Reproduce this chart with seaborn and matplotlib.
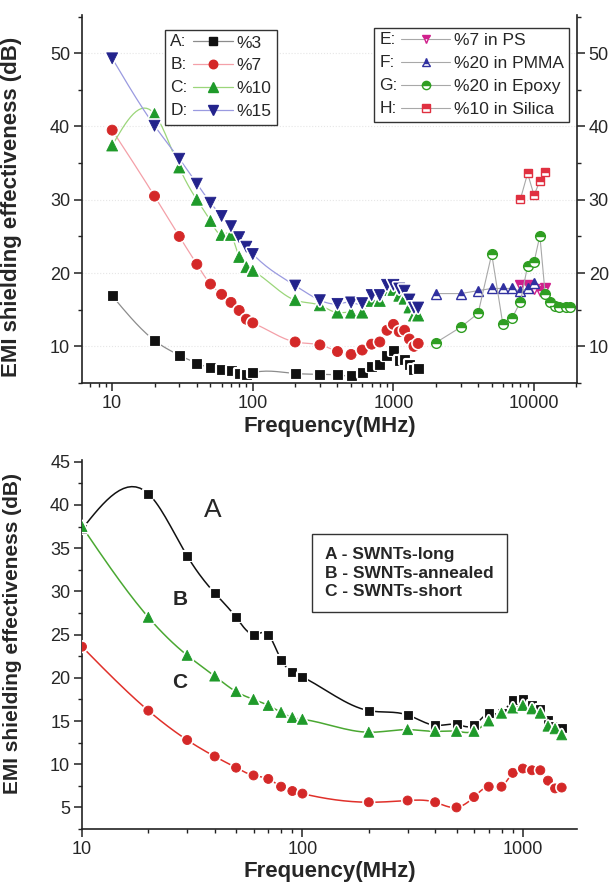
import numpy as np
import matplotlib
matplotlib.use("Agg")
import matplotlib.pyplot as plt
import matplotlib.ticker as mticker
import matplotlib.patheffects as pe
from matplotlib.lines import Line2D
from matplotlib.legend_handler import HandlerLine2D
from matplotlib.text import Text
import seaborn as sns

sns.set_style("ticks")
plt.rcParams["font.family"] = ["Liberation Sans", "DejaVu Sans"]

# ---- top panel: SWNT loadings (frequency in MHz, SE in dB)
freq = [10, 20, 30, 40, 50, 60, 70, 80, 90, 100, 200, 300, 400, 500,
        600, 700, 800, 900, 1000, 1100, 1200, 1300, 1400, 1500]
se_3 = [16.9, 10.8, 8.8, 7.7, 7.1, 6.9, 6.7, 6.3, 6.2, 6.4, 6.3, 6.2, 6.1, 6.0,
        6.5, 7.2, 7.5, 8.7, 9.4, 8.1, 8.2, 7.5, 6.8, 7.0]
se_7 = [39.5, 30.5, 25.0, 21.2, 18.5, 17.1, 16.0, 14.9, 13.7, 13.2, 10.6, 10.2, 9.3, 8.9,
        9.5, 10.3, 10.6, 12.2, 13.0, 12.0, 12.2, 11.0, 10.0, 10.4]
se_10 = [37.4, 41.7, 34.4, 30.0, 27.1, 25.2, 25.2, 22.2, 20.8, 20.3, 16.3, 15.6, 14.6, 14.6,
         14.6, 16.2, 16.2, 17.7, 17.7, 16.9, 16.5, 15.3, 14.2, 14.2]
se_15 = [49.3, 40.1, 35.6, 32.2, 29.6, 27.8, 26.4, 24.9, 23.6, 22.6, 18.3, 16.3, 15.8, 16.0,
         15.9, 17.0, 17.0, 18.4, 18.4, 17.9, 17.6, 16.4, 15.3, 15.3]

# ---- top panel: literature composites
freq_ps = [8000, 9000, 10000, 11000, 12000]
se_ps = [18.4, 18.4, 17.8, 17.6, 17.9]
freq_pmma = [2000, 3000, 4000, 5000, 6000, 7000, 8000, 9000, 10000]
se_pmma = [17.2, 17.2, 17.6, 17.9, 17.9, 17.9, 17.5, 17.9, 18.6]
freq_epoxy = [2000, 3000, 4000, 5000, 6000, 7000, 8000, 9000, 10000, 11000,
              12000, 13000, 14000, 15000, 17000, 18000]
se_epoxy = [10.5, 12.6, 14.5, 22.6, 13.0, 13.9, 16.1, 21.0, 21.5, 25.1,
            17.1, 16.1, 15.5, 15.4, 15.4, 15.4]
freq_silica = [8000, 9000, 10000, 11000, 12000]
se_silica = [30.1, 33.6, 30.6, 32.6, 33.8]

# ---- bottom panel: SWNT types
se_long = [37.2, 41.3, 34.1, 29.8, 27.0, 25.0, 25.0, 22.1, 20.7, 20.1, 16.2, 15.7, 14.5, 14.6,
           14.5, 15.9, 15.9, 17.4, 17.5, 16.9, 16.4, 15.1, 14.4, 14.2]
se_annealed = [37.5, 27.0, 22.6, 20.2, 18.4, 17.5, 16.8, 16.0, 15.4, 15.2, 13.7, 14.0, 13.8, 13.8,
               13.8, 15.0, 15.9, 16.5, 16.8, 16.4, 15.9, 14.4, 14.1, 13.4]
se_short = [23.6, 16.2, 12.8, 10.9, 9.6, 8.7, 8.3, 7.4, 6.9, 6.6, 5.6, 5.8, 5.6, 5.0,
            6.2, 7.4, 7.4, 9.0, 9.5, 9.3, 9.3, 8.1, 7.2, 7.3]


# spline connector (log-x), like Origin's spline line
def spline_line(x, y, n=16):
    t = np.log10(np.asarray(x, float))
    y = np.asarray(y, float)
    k = len(t)
    h = np.diff(t)
    A = np.zeros((k, k))
    r = np.zeros(k)
    A[0, 0] = A[-1, -1] = 1
    for i in range(1, k - 1):
        A[i, i - 1] = h[i - 1]
        A[i, i] = 2 * (h[i - 1] + h[i])
        A[i, i + 1] = h[i]
        r[i] = 3 * ((y[i + 1] - y[i]) / h[i] - (y[i] - y[i - 1]) / h[i - 1])
    c = np.linalg.solve(A, r)
    tt, yy = [], []
    for i in range(k - 1):
        s = np.linspace(0, h[i], n, endpoint=False)
        b = (y[i + 1] - y[i]) / h[i] - h[i] * (2 * c[i] + c[i + 1]) / 3
        d = (c[i + 1] - c[i]) / (3 * h[i])
        tt.append(t[i] + s)
        yy.append(y[i] + b * s + c[i] * s ** 2 + d * s ** 3)
    tt.append([t[-1]])
    yy.append([y[-1]])
    return 10 ** np.concatenate(tt), np.concatenate(yy)


class LetterHandler(HandlerLine2D):
    """legend handle drawn as 'A: --marker--'"""
    def __init__(self, letter, lead=1.3, **kw):
        super().__init__(**kw)
        self.letter = letter
        self.lead = lead

    def create_artists(self, legend, orig_handle, xdescent, ydescent,
                       width, height, fontsize, trans):
        off = self.lead * fontsize
        arts = super().create_artists(legend, orig_handle, xdescent - off, ydescent,
                                      width - off, height, fontsize, trans)
        txt = Text(-xdescent, (height - ydescent) / 2, self.letter, fontsize=fontsize,
                   va="center", ha="left", transform=trans)
        return arts + [txt]


halo = [pe.withStroke(linewidth=3, foreground="white")]
fmt = mticker.FuncFormatter(lambda v, _: f"{v:g}")

fig = plt.figure(figsize=(6.1, 8.86), dpi=100)
ax1 = fig.add_axes([0.1344, 0.5677, 0.8115, 0.4153])
ax2 = fig.add_axes([0.1344, 0.0643, 0.8115, 0.4165])

# ================= top panel =================
ax1.set_xscale("log")
ax1.grid(axis="y", ls=":", color="#e6e6e6", lw=0.8)

top_series = [
    ("A:", "%3", se_3, "#111111", "#8c8c8c", "s", 42),
    ("B:", "%7", se_7, "#d42828", "#f4a0a8", "o", 52),
    ("C:", "%10", se_10, "#1f9a2a", "#9bd67a", "^", 62),
    ("D:", "%15", se_15, "#23238c", "#9a9ae0", "v", 62),
]
handles1, labels1, hmap1 = [], [], {}
for letter, lab, vals, mc, lc, mk, sz in top_series:
    xs, ys = spline_line(freq, vals)
    sns.lineplot(x=xs, y=ys, ax=ax1, color=lc, lw=0.9, estimator=None, sort=False)
    sns.scatterplot(x=freq, y=vals, ax=ax1, marker=mk, color=mc, s=sz,
                    edgecolor=mc, linewidth=0.6, path_effects=halo, zorder=3)
    h = Line2D([], [], color=lc, lw=0.9, marker=mk, markersize=np.sqrt(sz) * 0.85,
               markerfacecolor=mc, markeredgecolor=mc)
    handles1.append(h)
    labels1.append(lab)
    hmap1[h] = LetterHandler(letter)

lit_series = [
    ("E:", "%7 in PS", freq_ps, se_ps, "#d0208c", "v", 7),
    ("F:", "%20 in PMMA", freq_pmma, se_pmma, "#3030a0", "^", 7),
    ("G:", "%20 in Epoxy", freq_epoxy, se_epoxy, "#2f9e22", "o", 7),
    ("H:", "%10 in Silica", freq_silica, se_silica, "#e03040", "s", 6),
]
handles2, labels2, hmap2 = [], [], {}
for letter, lab, fx, vals, mc, mk, ms in lit_series:
    sns.lineplot(x=fx, y=vals, ax=ax1, color="#a8a8a8", lw=0.8, estimator=None,
                 sort=False, marker=mk, markersize=ms, fillstyle="top",
                 markerfacecolor=mc, markerfacecoloralt="white",
                 markeredgecolor=mc, markeredgewidth=1.0)
    h = Line2D([], [], color="#a8a8a8", lw=0.8, marker=mk, markersize=ms * 0.85,
               fillstyle="top", markerfacecolor=mc, markerfacecoloralt="white",
               markeredgecolor=mc)
    handles2.append(h)
    labels2.append(lab)
    hmap2[h] = LetterHandler(letter, lead=1.25)

leg_kw = dict(numpoints=1, frameon=True, fancybox=False, framealpha=1,
              edgecolor="#333333", fontsize=12.5, labelspacing=0.45, borderpad=0.3,
              handletextpad=0.2, borderaxespad=0)
leg1 = ax1.legend(handles1, labels1, handler_map=hmap1, loc="upper left",
                  bbox_to_anchor=(0.168, 0.959), handlelength=3.6, **leg_kw)
leg1.get_frame().set_linewidth(1.0)
ax1.add_artist(leg1)
leg2 = ax1.legend(handles2, labels2, handler_map=hmap2, loc="upper right",
                  bbox_to_anchor=(0.984, 0.965), handlelength=4.1, **leg_kw)
leg2.get_frame().set_linewidth(1.0)

ax1.set_xlim(6.1, 20200)
ax1.set_ylim(5, 55.2)
ax1.yaxis.set_major_locator(mticker.MultipleLocator(10))
ax1.yaxis.set_minor_locator(mticker.MultipleLocator(5))
ax1.xaxis.set_major_formatter(fmt)
ax1.xaxis.set_minor_formatter(mticker.NullFormatter())
ax1.tick_params(axis="y", which="both", right=True, labelright=True)
ax1.spines["top"].set_visible(False)
ax1.set_xlabel("Frequency(MHz)", fontsize=16, fontweight="bold", labelpad=3)
ax1.set_ylabel("EMI shielding effectiveness (dB)", fontsize=16, fontweight="bold")
ax1.yaxis.set_label_coords(-0.121, 0.48)

# ================= bottom panel =================
ax2.set_xscale("log")
bottom_series = [
    (se_long, "#111111", "#111111", "s", 33),
    (se_annealed, "#1f9a2a", "#4aa832", "^", 52),
    (se_short, "#d42828", "#e0302a", "o", 42),
]
for vals, mc, lc, mk, sz in bottom_series:
    xs, ys = spline_line(freq, vals)
    sns.lineplot(x=xs, y=ys, ax=ax2, color=lc, lw=1.1, estimator=None, sort=False)
    sns.scatterplot(x=freq, y=vals, ax=ax2, marker=mk, color=mc, s=sz,
                    edgecolor=mc, linewidth=0.6, path_effects=halo, zorder=3)

ax2.text(39.3, 39.4, "A", fontsize=19, ha="center", va="center")
ax2.text(27.9, 29.1, "B", fontsize=15, fontweight="bold", ha="center", va="center")
ax2.text(27.7, 19.4, "C", fontsize=15, fontweight="bold", ha="center", va="center")

blank = [Line2D([], [], linestyle="none") for _ in range(3)]
leg3 = ax2.legend(blank, ["A - SWNTs-long", "B - SWNTs-annealed", "C - SWNTs-short"],
                  loc="upper left", bbox_to_anchor=(0.465, 0.80), handlelength=0,
                  handletextpad=0, frameon=True, fancybox=False, framealpha=1,
                  edgecolor="#333333", borderpad=0.75, labelspacing=0.2,
                  borderaxespad=0, prop={"weight": "bold", "size": 12.5})
leg3.get_frame().set_linewidth(1.0)

ax2.set_xlim(10, 1760)
ax2.set_ylim(2.5, 45.2)
ax2.yaxis.set_major_locator(mticker.MultipleLocator(5))
ax2.yaxis.set_minor_locator(mticker.MultipleLocator(2.5))
ax2.xaxis.set_major_formatter(fmt)
ax2.xaxis.set_minor_formatter(mticker.NullFormatter())
ax2.spines["top"].set_visible(False)
ax2.spines["right"].set_visible(False)
ax2.set_xlabel("Frequency(MHz)", fontsize=16, fontweight="bold", labelpad=2)
ax2.set_ylabel("EMI shielding effectiveness (dB)", fontsize=15, fontweight="bold")
ax2.yaxis.set_label_coords(-0.121, 0.53)

for ax in (ax1, ax2):
    ax.tick_params(which="major", length=5.5, width=1.1, labelsize=13, pad=3,
                   direction="out", color="#222222")
    ax.tick_params(which="minor", length=3, width=1.0, direction="out", color="#222222")
    for sp in ax.spines.values():
        sp.set_linewidth(1.2)
        sp.set_color("#222222")

fig.savefig("out.png", dpi=100)
